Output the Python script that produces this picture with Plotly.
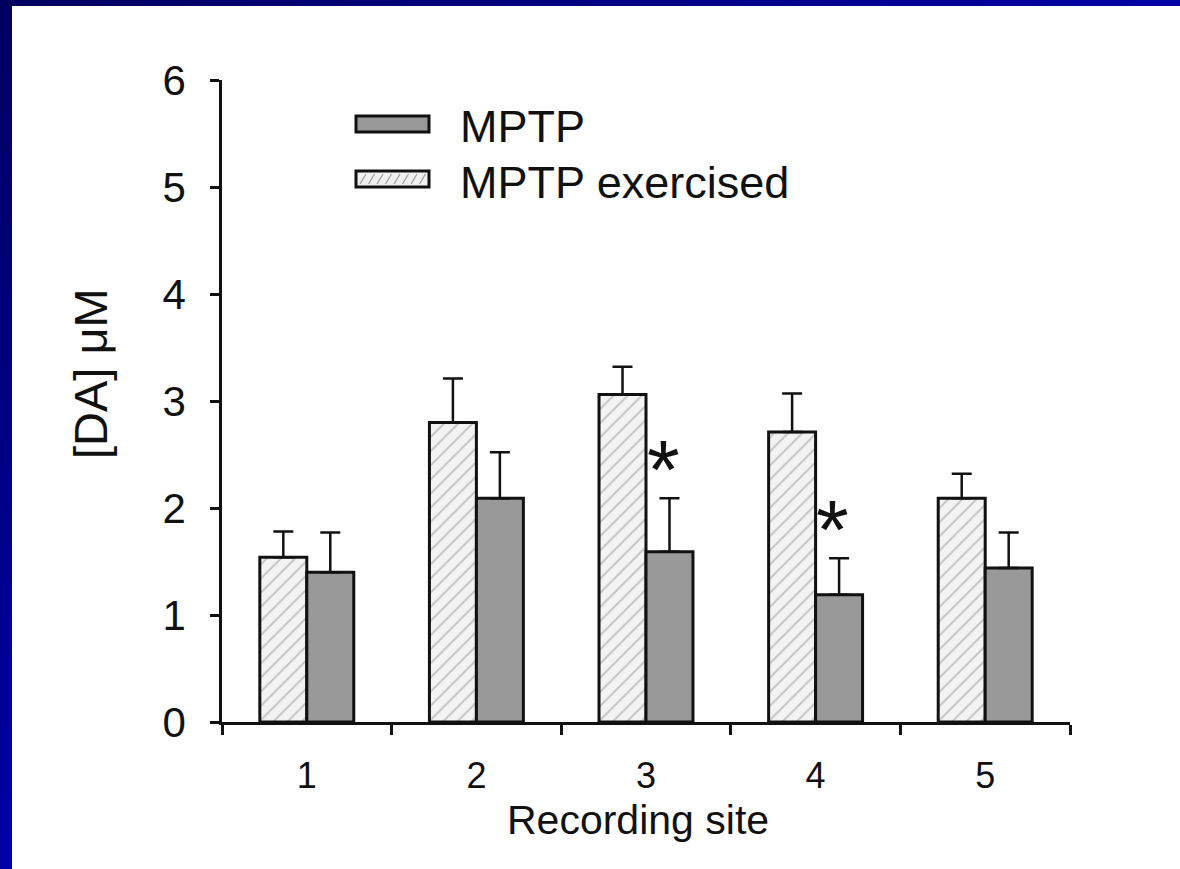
import plotly.graph_objects as go

# ---------------- data ----------------
sites = ["1", "2", "3", "4", "5"]
mptp_exercised = [1.54, 2.80, 3.06, 2.71, 2.09]
mptp_exercised_err = [0.24, 0.41, 0.26, 0.36, 0.23]
mptp = [1.40, 2.09, 1.59, 1.19, 1.44]
mptp_err = [0.37, 0.43, 0.50, 0.34, 0.33]
significant_sites = ["3", "4"]
y_ticks = [0, 1, 2, 3, 4, 5, 6]
series_names = ["MPTP", "MPTP exercised"]
x_title = "Recording site"
y_title = "[DA] μM"

# ---------------- geometry helpers ----------------
W, H = 1180, 869
L, R, T, B = 222, 1070, 80, 722
FONT = "Arial, Liberation Sans, Helvetica, sans-serif"


def px(x):
    return (x - L) / (R - L)


def py(y):
    return (B - y) / (B - T)


fig = go.Figure()

fig.add_trace(go.Bar(
    name=series_names[1], x=sites, y=mptp_exercised,
    marker=dict(color="#f3f3f3",
                line=dict(color="#111111", width=3),
                pattern=dict(shape="/", fgcolor="#959595", bgcolor="#f3f3f3",
                             size=10, solidity=0.2)),
    error_y=dict(type="data", array=mptp_exercised_err, arrayminus=[0] * len(sites),
                 symmetric=False, color="#111111", thickness=2.5, width=10),
    showlegend=False,
))
fig.add_trace(go.Bar(
    name=series_names[0], x=sites, y=mptp,
    marker=dict(color="#999999", line=dict(color="#111111", width=3)),
    error_y=dict(type="data", array=mptp_err, arrayminus=[0] * len(sites),
                 symmetric=False, color="#111111", thickness=2.5, width=10),
    showlegend=False,
))

# significance stars (x given as category index)
annotations = []
for s in significant_sites:
    i = sites.index(s)
    annotations.append(dict(
        x=i, y=mptp[i] + mptp_err[i] + 0.36, xref="x", yref="y",
        text="*", showarrow=False, xshift=17, yshift=-10,
        font=dict(family=FONT, size=84, color="#111111"),
        xanchor="center", yanchor="middle"))

# axis titles
annotations.append(dict(x=px(638), y=py(820), xref="paper", yref="paper",
                        text=x_title, showarrow=False,
                        font=dict(family=FONT, size=41, color="#111111"),
                        xanchor="center", yanchor="middle"))
annotations.append(dict(x=px(90), y=py(374), xref="paper", yref="paper",
                        text=y_title, showarrow=False, textangle=-90,
                        font=dict(family=FONT, size=47, color="#111111"),
                        xanchor="center", yanchor="middle"))

# manual legend
legend_rows = [(124, series_names[0]), (179, series_names[1])]
shapes = []
for yc, name in legend_rows:
    annotations.append(dict(x=px(458), y=py(yc + 3), xref="paper", yref="paper",
                            text=name, showarrow=False,
                            font=dict(family=FONT, size=45, color="#111111"),
                            xanchor="left", yanchor="middle"))
shapes.append(dict(type="rect", xref="paper", yref="paper",
                   x0=px(356), x1=px(429), y0=py(132), y1=py(116),
                   fillcolor="#999999", line=dict(color="#111111", width=3)))
shapes.append(dict(type="rect", xref="paper", yref="paper",
                   x0=px(356), x1=px(429), y0=py(187), y1=py(171),
                   fillcolor="#f0f0f0", line=dict(color="#111111", width=3)))
for k in range(8):
    x0 = 360 + k * 8.5
    shapes.append(dict(type="line", xref="paper", yref="paper",
                       x0=px(x0), x1=px(x0 + 6), y0=py(184), y1=py(174),
                       line=dict(color="#9a9a9a", width=1.2)))

# blue slide border (gradient approximated by strips)
def blue(t):
    t = max(0.0, min(1.0, t))
    c0, c1 = (0, 0, 0x5e), (0, 0, 0xa6)
    return "rgb(%d,%d,%d)" % tuple(round(a + (b - a) * t) for a, b in zip(c0, c1))

N = 24
for k in range(N):
    xa, xb = W * k / N, W * (k + 1) / N
    shapes.append(dict(type="rect", xref="paper", yref="paper", layer="above",
                       x0=px(xa), x1=px(xb + 1), y0=py(6), y1=py(0),
                       fillcolor=blue(((xa + xb) / 2) / W), line=dict(width=0)))
    ya, yb = H * k / N, H * (k + 1) / N
    shapes.append(dict(type="rect", xref="paper", yref="paper", layer="above",
                       x0=px(0), x1=px(12), y0=py(yb + 1), y1=py(ya),
                       fillcolor=blue(((ya + yb) / 2) / H), line=dict(width=0)))

fig.update_layout(
    width=W, height=H, autosize=False,
    margin=dict(l=L, r=W - R, t=T, b=H - B, pad=0),
    paper_bgcolor="white", plot_bgcolor="white",
    barmode="group", bargap=0.446, bargroupgap=0,
    font=dict(family=FONT, color="#111111"),
    annotations=annotations, shapes=shapes,
    showlegend=False,
)
fig.update_xaxes(type="category", showline=True, linecolor="#111111", linewidth=3,
                 ticks="outside", tickson="boundaries", ticklen=10, tickwidth=2.5,
                 tickcolor="#111111", showgrid=False, zeroline=False,
                 tickfont=dict(family=FONT, size=36, color="#111111"),
                 ticklabelstandoff=20)
fig.update_yaxes(range=[0, 6], tickvals=y_ticks, showline=True, linecolor="#111111",
                 linewidth=2.5, ticks="outside", ticklen=9, tickwidth=2.5,
                 tickcolor="#111111", showgrid=False, zeroline=False,
                 tickfont=dict(family=FONT, size=42, color="#111111"),
                 ticklabelstandoff=16)

fig.write_html("out.html",
               config={"displayModeBar": False},
               post_script="document.body.style.margin='0';"
                           "document.body.style.overflow='hidden';")
